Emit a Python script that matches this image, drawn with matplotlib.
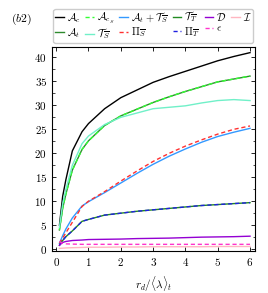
import matplotlib
matplotlib.use('Agg')
import matplotlib.pyplot as plt
from matplotlib.ticker import MultipleLocator

plt.rcParams['font.family'] = 'serif'
plt.rcParams['font.serif'] = ['cmr10', 'DejaVu Serif']
plt.rcParams['mathtext.fontset'] = 'cm'
plt.rcParams['axes.formatter.use_mathtext'] = True

# r_d / <lambda>_t
rd = [0.1, 0.2, 0.3, 0.5, 0.8, 1.0, 1.5, 2.0, 2.5, 3.0, 3.5, 4.0, 4.5, 5.0, 5.5, 6.0]

A_c = [5.0, 11.0, 14.5, 20.5, 24.5, 26.2, 29.3, 31.6, 33.2, 34.8, 36.0, 37.1, 38.2, 39.3, 40.2, 41.0]
A_t = [4.0, 8.5, 11.5, 16.5, 20.8, 22.6, 25.8, 27.8, 29.2, 30.6, 31.8, 32.9, 33.9, 34.9, 35.5, 36.1]
A_cS = [4.0, 8.5, 11.5, 16.5, 20.8, 22.6, 25.8, 27.8, 29.2, 30.6, 31.8, 32.9, 33.9, 34.9, 35.5, 36.1]
T_S = [4.5, 9.5, 12.5, 17.5, 22.0, 23.6, 26.0, 27.5, 28.4, 29.3, 29.6, 29.9, 30.5, 31.0, 31.2, 31.0]
A_t_T_S = [1.2, 2.8, 4.2, 6.5, 9.0, 9.9, 11.8, 13.8, 15.8, 17.7, 19.4, 20.9, 22.3, 23.5, 24.4, 25.2]
Pi_S = [1.2, 2.3, 3.4, 5.6, 8.9, 10.0, 12.0, 14.2, 16.3, 18.3, 20.0, 21.5, 22.8, 24.0, 25.0, 25.7]
T_T = [0.8, 1.8, 2.6, 3.8, 5.8, 6.2, 7.1, 7.5, 7.9, 8.2, 8.5, 8.8, 9.1, 9.3, 9.5, 9.7]
Pi_T = [0.8, 1.8, 2.6, 3.8, 5.8, 6.2, 7.1, 7.5, 7.9, 8.2, 8.5, 8.8, 9.1, 9.3, 9.5, 9.7]
D = [0.8, 1.4, 1.6, 1.8, 1.9, 2.0, 2.05, 2.1, 2.2, 2.25, 2.3, 2.4, 2.5, 2.55, 2.6, 2.7]
I = [0.15, 0.2, 0.25, 0.3, 0.35, 0.4, 0.4, 0.45, 0.45, 0.5, 0.5, 0.5, 0.5, 0.55, 0.55, 0.55]
eps = [1.6, 1.2, 1.1, 1.05, 1.0, 1.0, 1.0, 1.0, 1.0, 1.0, 1.0, 1.0, 1.0, 1.0, 1.0, 1.0]

fig = plt.figure(figsize=(2.68, 2.93), dpi=100)
ax = fig.add_axes([0.194, 0.144, 0.757, 0.696])

lw = 1.0
# order chosen so the 2-row legend fills like the reference
ax.plot(rd, A_c, color='black', lw=lw, label=r'$\mathcal{A}_c$')
ax.plot(rd, A_t, color='#2e8b2e', lw=lw, label=r'$\mathcal{A}_t$')
ax.plot(rd, A_cS, color='#33ff33', lw=lw, ls='--', dashes=(3, 2), label=r'$\mathcal{A}_{c_S}$')
ax.plot(rd, T_S, color='#70f0c8', lw=lw, label=r'$\mathcal{T}_{\overline{S}}$')
ax.plot(rd, A_t_T_S, color='#3399ff', lw=lw, label=r'$\mathcal{A}_t+\mathcal{T}_{\overline{S}}$')
ax.plot(rd, Pi_S, color='#ff3030', lw=lw, ls='--', dashes=(3, 2), label=r'$\mathit{\Pi}_{\overline{S}}$')
ax.plot(rd, T_T, color='#228b22', lw=lw, label=r'$\mathcal{T}_{\overline{T}}$')
ax.plot(rd, Pi_T, color='#2020e0', lw=lw, ls='--', dashes=(3, 2), label=r'$\mathit{\Pi}_{\overline{T}}$')
ax.plot(rd, D, color='#9400d3', lw=lw, label=r'$\mathcal{D}$')
ax.plot(rd, eps, color='#ff33cc', lw=lw, ls='--', dashes=(3, 2), label=r'$\epsilon$')
ax.plot(rd, I, color='#ffb6c1', lw=lw, label=r'$\mathcal{I}$')

ax.set_xlim(-0.13, 6.15)
ax.set_ylim(-0.35, 42.2)
ax.xaxis.set_major_locator(MultipleLocator(1))
ax.yaxis.set_major_locator(MultipleLocator(5))
ax.yaxis.set_minor_locator(MultipleLocator(2.5))
ax.tick_params(which='both', direction='in', top=True, right=True, labelsize=8)
ax.tick_params(which='major', length=3, width=0.6)
ax.tick_params(which='minor', length=1.8, width=0.5)
for s in ax.spines.values():
    s.set_linewidth(0.8)

ax.set_xlabel(r'$r_d/\langle\lambda\rangle_t$', fontsize=8, labelpad=5)

ax.legend(loc='lower center', bbox_to_anchor=(0.5, 1.01), ncol=6, fontsize=7.6,
          handlelength=0.8, handletextpad=0.3, columnspacing=0.45,
          labelspacing=0.1, borderpad=0.15, borderaxespad=0.2, frameon=True,
          fancybox=True, edgecolor='#cccccc', framealpha=1)

fig.text(0.04, 0.925, r'$(b2)$', fontsize=8.5)

fig.savefig('out.png', dpi=100)
